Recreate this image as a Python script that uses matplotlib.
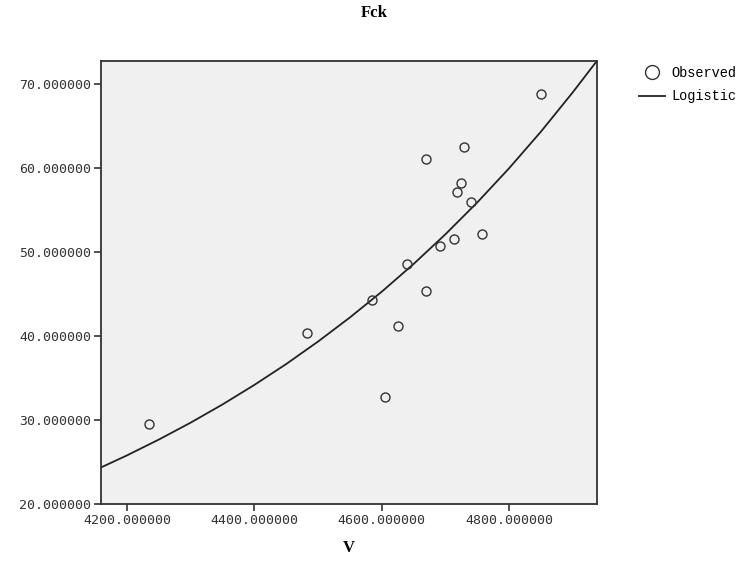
import numpy as np
import matplotlib
matplotlib.use("Agg")
import matplotlib.pyplot as plt
from matplotlib.lines import Line2D

# Observed points (V, Fck)
v_obs = [4234, 4482, 4584, 4605, 4626, 4640, 4670, 4670, 4692, 4714,
         4719, 4725, 4730, 4741, 4758, 4850]
fck_obs = [29.6, 40.4, 44.3, 32.8, 41.2, 48.6, 45.4, 61.0, 50.7, 51.6,
           57.1, 58.2, 62.5, 55.9, 52.1, 68.8]

# Fitted logistic curve
v_fit = [4159, 4200, 4250, 4300, 4350, 4400, 4450, 4500, 4550, 4600,
         4650, 4700, 4750, 4800, 4850, 4900, 4938]
fck_fit = [24.4, 25.84, 27.72, 29.73, 31.89, 34.21, 36.69, 39.36, 42.22, 45.28,
           48.57, 52.10, 55.88, 59.94, 64.29, 68.96, 72.7]

x_ticks = [4200, 4400, 4600, 4800]
y_ticks = [20, 30, 40, 50, 60, 70]

fig = plt.figure(figsize=(7.48, 5.64), dpi=100)
ax = fig.add_axes([0.135, 0.1055, 0.663, 0.7865])
ax.set_facecolor("#f0f0f0")

ax.plot(v_fit, fck_fit, color="#222222", linewidth=1.3, zorder=2)
ax.plot(v_obs, fck_obs, linestyle="none", marker="o", markersize=6.5,
        markerfacecolor="none", markeredgecolor="#333333", markeredgewidth=1.0, zorder=3)

ax.set_xlim(4159, 4938)
ax.set_ylim(20, 72.7)
ax.set_xticks(x_ticks)
ax.set_yticks(y_ticks)
ax.set_xticklabels(["%.6f" % t for t in x_ticks], family="DejaVu Sans Mono", fontsize=9.5)
ax.set_yticklabels(["%.6f" % t for t in y_ticks], family="DejaVu Sans Mono", fontsize=9.5)
ax.tick_params(direction="out", length=5, width=1.2, color="#333333",
               labelcolor="#333333", pad=2)
for sp in ax.spines.values():
    sp.set_color("#333333")
    sp.set_linewidth(1.3)

ax.set_xlabel("V", family="Liberation Serif", fontweight="bold", fontsize=12, labelpad=9)
fig.text(0.5, 0.977, "Fck", ha="center", va="center", family="Liberation Serif",
         fontweight="bold", fontsize=12)

# Legend outside the axes, top right
handles = [
    Line2D([], [], linestyle="none", marker="o", markersize=10,
           markerfacecolor="none", markeredgecolor="#333333", markeredgewidth=1.0),
    Line2D([], [], color="#222222", linewidth=1.3),
]
fig.legend(handles, ["Observed", "Logistic"], loc="upper left",
           bbox_to_anchor=(0.838, 0.905), frameon=False, handlelength=1.9,
           handletextpad=0.45, labelspacing=0.7,
           prop={"family": "Liberation Mono", "size": 9.8})

fig.savefig("out.png", dpi=100)
